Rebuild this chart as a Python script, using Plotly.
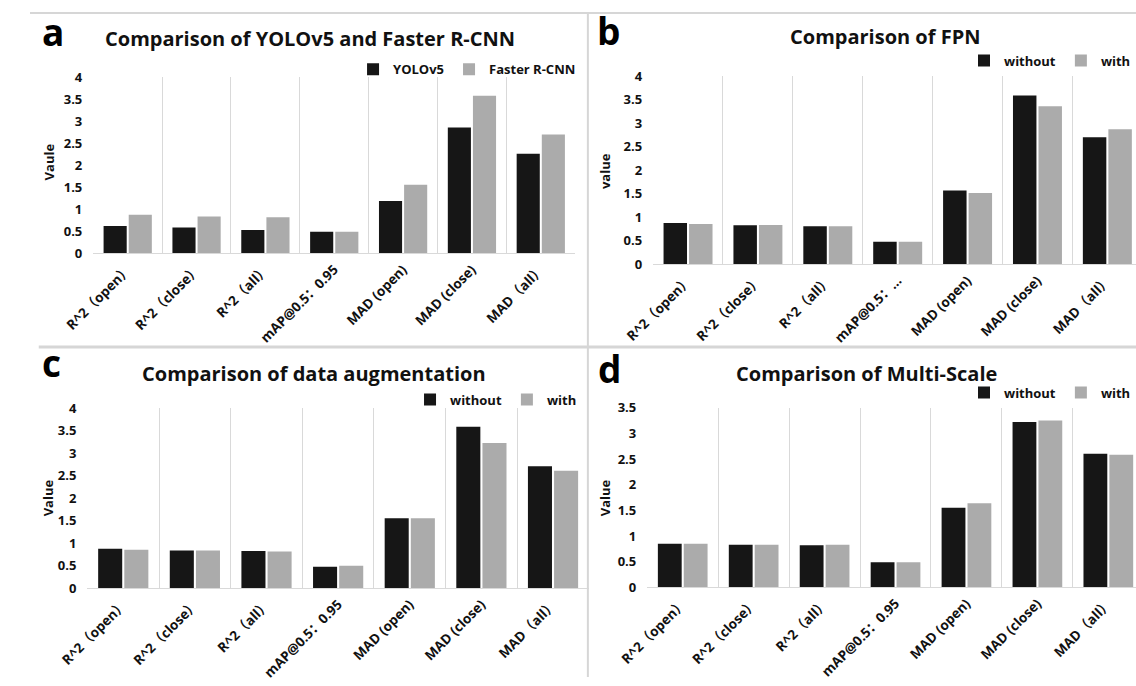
import plotly.graph_objects as go

W, H = 1136, 686

categories = ["R^2（open）", "R^2（close）", "R^2（all）", "mAP@0.5：0.95",
              "MAD (open)", "MAD (close)", "MAD（all）"]
categories_fpn = ["R^2（open）", "R^2（close）", "R^2（all）", "mAP@0.5：…",
                  "MAD (open)", "MAD (close)", "MAD（all）"]

yolov5 = [0.62, 0.59, 0.53, 0.49, 1.19, 2.86, 2.26]
faster_rcnn = [0.88, 0.84, 0.82, 0.49, 1.56, 3.58, 2.70]
fpn_without = [0.88, 0.83, 0.81, 0.48, 1.57, 3.59, 2.70]
fpn_with = [0.86, 0.84, 0.81, 0.48, 1.52, 3.36, 2.87]
aug_without = [0.88, 0.84, 0.83, 0.48, 1.56, 3.59, 2.71]
aug_with = [0.86, 0.84, 0.82, 0.50, 1.56, 3.23, 2.61]
ms_without = [0.85, 0.83, 0.82, 0.49, 1.55, 3.22, 2.60]
ms_with = [0.85, 0.83, 0.83, 0.49, 1.64, 3.25, 2.58]

titles = ["Comparison of YOLOv5 and Faster R-CNN", "Comparison of FPN",
          "Comparison of data augmentation", "Comparison of Multi-Scale"]
letters = ["a", "b", "c", "d"]
ytitles = ["Vaule", "value", "Value", "Value"]

BLACK = "#161616"
GRAY = "#ababab"
GRID = "#d9d9d9"
FONT = "Open Sans, Noto Sans CJK SC, sans-serif"
TXT = "#111111"


def px_x(p):
    return p / W


def px_y(p):
    return 1 - p / H


panels = [
    dict(x=(65, 560), y=(251, 70), xr=[-0.5, 6.5], yr=[0, 4], cats=categories,
         s1=("YOLOv5", yolov5), s2=("Faster R-CNN", faster_rcnn),
         leg=(566, 62), title=(288, 30), letter=(24, 23), ytl=(19, 157)),
    dict(x=(640, 1136), y=(262.3, 69), xr=[-0.5, 6.41], yr=[0, 4], cats=categories_fpn,
         s1=("without", fpn_without), s2=("with", fpn_with),
         leg=(1136, 53), title=(878, 28), letter=(594, 22), ytl=(590, 166)),
    dict(x=(59, 574), y=(595, 410), xr=[-0.5, 6.5], yr=[0, 4], cats=categories,
         s1=("without", aug_without), s2=("with", aug_with),
         leg=(567, 401), title=(292, 374), letter=(22, 363), ytl=(18, 502)),
    dict(x=(634, 1136), y=(594, 409.3), xr=[-0.5, 6.39], yr=[0, 3.5], cats=categories,
         s1=("without", ms_without), s2=("with", ms_with),
         leg=(1136, 394), title=(859, 374), letter=(595, 369), ytl=(590, 502)),
]

fig = go.Figure()
annotations = []
layout = dict(
    width=W, height=H, margin=dict(l=0, r=0, t=0, b=0),
    paper_bgcolor="white", plot_bgcolor="white",
    barmode="group", bargap=0.27, bargroupgap=0.08,
    font=dict(family=FONT, size=12, color=TXT),
)

for i, p in enumerate(panels):
    n = i + 1
    xa = "x" if n == 1 else f"x{n}"
    ya = "y" if n == 1 else f"y{n}"
    leg = "legend" if n == 1 else f"legend{n}"
    for (name, vals), col in ((p["s1"], BLACK), (p["s2"], GRAY)):
        fig.add_trace(go.Bar(x=p["cats"], y=vals, name=name, marker=dict(color=col, line=dict(width=0)),
                             xaxis=xa, yaxis=ya, legend=leg))
    xkey = "xaxis" if n == 1 else f"xaxis{n}"
    ykey = "yaxis" if n == 1 else f"yaxis{n}"
    layout[xkey] = dict(domain=[px_x(p["x"][0]), px_x(p["x"][1])], anchor=ya, type="category",
                        range=p["xr"], tickson="boundaries", ticks="", showgrid=True,
                        gridcolor=GRID, gridwidth=1, showline=True, linecolor=GRID, linewidth=1,
                        tickangle=-45, ticklabelstandoff=2,
                        tickfont=dict(size=13.5, weight="bold", family=FONT, color=TXT),
                        fixedrange=True)
    layout[ykey] = dict(domain=[px_y(p["y"][0]), px_y(p["y"][1])], anchor=xa, range=p["yr"],
                        dtick=0.5, showgrid=False, zeroline=False, showline=False, ticks="",
                        ticklabelstandoff=10,
                        tickfont=dict(size=13, weight="bold", family=FONT, color=TXT), fixedrange=True)
    lx, ly = p["leg"]
    layout[leg] = dict(orientation="h", x=px_x(lx), y=px_y(ly), xanchor="right", yanchor="middle",
                       bgcolor="rgba(0,0,0,0)",
                       font=dict(size=13, weight="bold", family=FONT, color=TXT), traceorder="normal")
    tx, ty = p["title"]
    annotations.append(dict(text=titles[i], x=px_x(tx), y=px_y(ty), xref="paper", yref="paper",
                            showarrow=False, xanchor="center", yanchor="middle",
                            font=dict(size=20, weight="bold", family=FONT, color=TXT)))
    lx2, ly2 = p["letter"]
    annotations.append(dict(text=letters[i], x=px_x(lx2), y=px_y(ly2), xref="paper", yref="paper",
                            showarrow=False, xanchor="center", yanchor="middle",
                            font=dict(size=37, weight="bold", family="Open Sans", color="#000000")))
    yx, yy = p["ytl"]
    annotations.append(dict(text=ytitles[i], x=px_x(yx), y=px_y(yy), xref="paper", yref="paper",
                            showarrow=False, xanchor="center", yanchor="middle", textangle=-90,
                            font=dict(size=13, weight="bold", family=FONT, color=TXT)))

layout["annotations"] = annotations
BORDER = "#d6d6d6"
layout["shapes"] = [
    dict(type="line", xref="paper", yref="paper", x0=0, x1=1, y0=px_y(4), y1=px_y(4),
         line=dict(color=BORDER, width=2), layer="above"),
    dict(type="line", xref="paper", yref="paper", x0=px_x(573), x1=px_x(573), y0=px_y(4), y1=0,
         line=dict(color=BORDER, width=2), layer="above"),
    dict(type="line", xref="paper", yref="paper", x0=px_x(9), x1=1, y0=px_y(347), y1=px_y(347),
         line=dict(color=BORDER, width=3), layer="above"),
]
fig.update_layout(**layout)
fig.write_html("out.html", config={"displayModeBar": False},
               post_script="document.body.style.margin='0';document.body.style.padding='0';"
                           "document.body.style.overflow='hidden';")
